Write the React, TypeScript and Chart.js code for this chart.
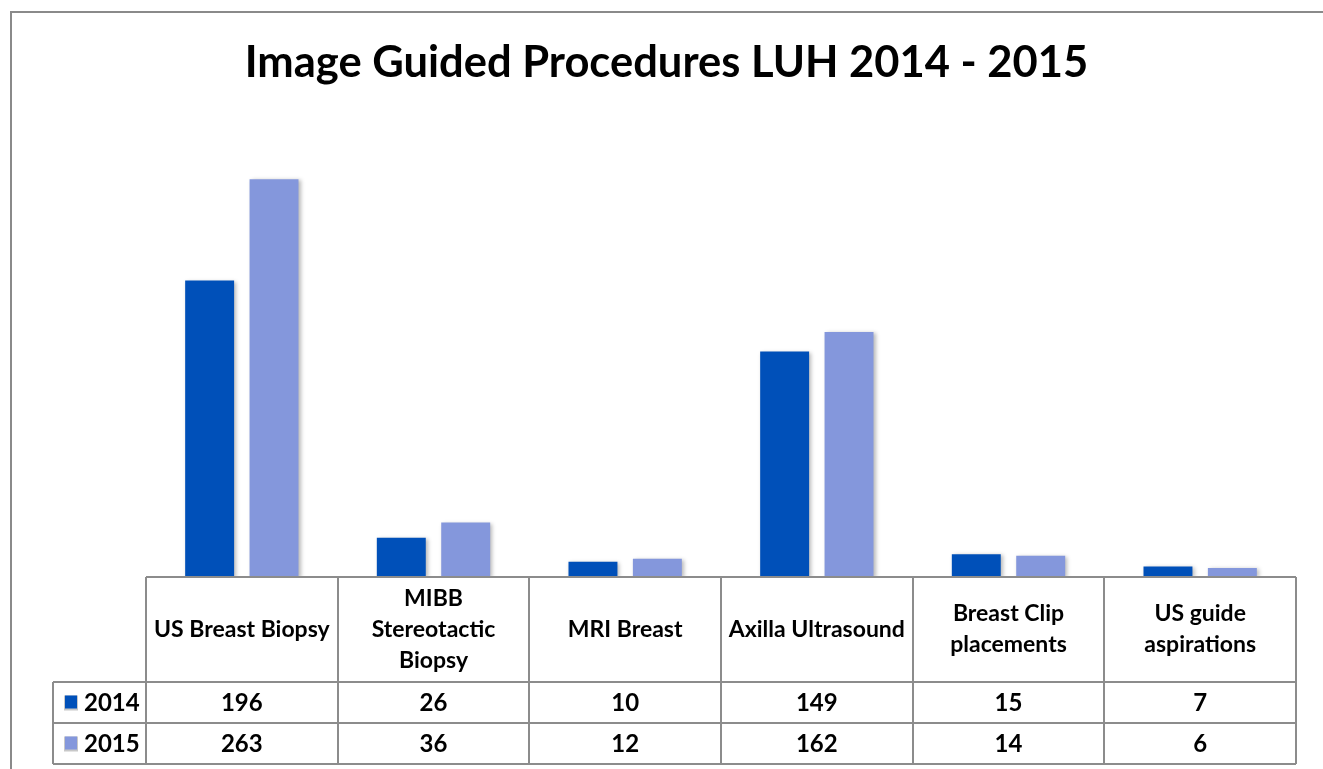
import React, { useEffect, useRef } from 'react';
import { Chart, registerables } from 'chart.js';

Chart.register(...registerables);

const TITLE = 'Image Guided Procedures LUH 2014 - 2015';
const categories: string[][] = [
  ['US Breast Biopsy'],
  ['MIBB', 'Stereotactic', 'Biopsy'],
  ['MRI Breast'],
  ['Axilla Ultrasound'],
  ['Breast Clip', 'placements'],
  ['US guide', 'aspirations'],
];
const seriesLabels = ['2014', '2015'];
const values2014 = [196, 26, 10, 149, 15, 7];
const values2015 = [263, 36, 12, 162, 14, 6];
const seriesColors = ['#0050B9', '#8497DC'];
const yMax = 300;

const FONT = 'Lato, "Open Sans", sans-serif';
const LINE = '#8c8c8c';

const framePlugin = {
  id: 'frame',
  beforeDraw(chart: any) {
    const { ctx, width, height } = chart;
    ctx.save();
    ctx.fillStyle = '#ffffff';
    ctx.fillRect(0, 0, width, height);
    ctx.strokeStyle = '#8a8a8a';
    ctx.lineWidth = 2;
    ctx.strokeRect(11, 12, width + 50, height + 50);
    ctx.restore();
  },
};

const shadowPlugin = {
  id: 'barShadow',
  beforeDatasetsDraw(chart: any) {
    const { ctx } = chart;
    ctx.save();
    ctx.shadowColor = 'rgba(0,0,0,0.28)';
    ctx.shadowBlur = 4;
    ctx.shadowOffsetX = 2;
    ctx.shadowOffsetY = 1;
  },
  afterDatasetsDraw(chart: any) {
    chart.ctx.restore();
  },
};

const tablePlugin = {
  id: 'dataTable',
  afterDraw(chart: any) {
    const { ctx, chartArea, scales } = chart;
    const { left, right, bottom } = chartArea;
    const xs = scales.x;
    const n = categories.length;
    const cw = (right - left) / n;
    const headerBottom = bottom + 105;
    const row1Bottom = headerBottom + 41;
    const row2Bottom = row1Bottom + 41;
    const legendLeft = 53;

    ctx.save();
    ctx.strokeStyle = LINE;
    ctx.lineWidth = 2;
    ctx.beginPath();
    ctx.moveTo(left, bottom);
    ctx.lineTo(right, bottom);
    ctx.moveTo(legendLeft, headerBottom);
    ctx.lineTo(right, headerBottom);
    ctx.moveTo(legendLeft, row1Bottom);
    ctx.lineTo(right, row1Bottom);
    ctx.moveTo(legendLeft, row2Bottom);
    ctx.lineTo(right, row2Bottom);
    for (let i = 0; i <= n; i++) {
      const xx = Math.round(left + i * cw);
      ctx.moveTo(xx, bottom);
      ctx.lineTo(xx, row2Bottom);
    }
    ctx.moveTo(legendLeft, headerBottom);
    ctx.lineTo(legendLeft, row2Bottom);
    ctx.stroke();

    ctx.fillStyle = '#000000';
    ctx.textAlign = 'center';
    ctx.textBaseline = 'middle';
    ctx.font = `bold 23px ${FONT}`;
    const headerMid = (bottom + headerBottom) / 2;
    const lh = 31;
    categories.forEach((lines, i) => {
      const cx = xs.getPixelForValue(i);
      const start = headerMid - ((lines.length - 1) * lh) / 2;
      lines.forEach((t, j) => ctx.fillText(t, cx, start + j * lh));
    });

    const rows = [values2014, values2015];
    const rowMids = [(headerBottom + row1Bottom) / 2, (row1Bottom + row2Bottom) / 2];
    rows.forEach((vals, r) => {
      ctx.textAlign = 'center';
      ctx.font = `bold 24px ${FONT}`;
      ctx.fillStyle = '#000000';
      vals.forEach((v, i) => {
        const cx = xs.getPixelForValue(i);
        ctx.fillText(String(v), cx, rowMids[r] + 1);
      });
      // legend key
      ctx.fillStyle = '#c8c8c8';
      ctx.fillRect(64, rowMids[r] - 7, 14, 15);
      ctx.fillStyle = seriesColors[r];
      ctx.fillRect(65, rowMids[r] - 7, 12, 13);
      ctx.fillStyle = '#000000';
      ctx.textAlign = 'left';
      ctx.font = `bold 24px ${FONT}`;
      ctx.fillText(seriesLabels[r], 84, rowMids[r] + 1);
    });
    ctx.restore();
  },
};

export default function App() {
  const ref = useRef<HTMLCanvasElement | null>(null);
  useEffect(() => {
    if (!ref.current) return;
    const chart = new Chart(ref.current, {
      type: 'bar',
      data: {
        labels: categories.map((c) => c.join(' ')),
        datasets: [
          {
            label: seriesLabels[0],
            data: values2014,
            backgroundColor: seriesColors[0],
            categoryPercentage: 0.672,
            barPercentage: 0.76,
          },
          {
            label: seriesLabels[1],
            data: values2015,
            backgroundColor: seriesColors[1],
            categoryPercentage: 0.672,
            barPercentage: 0.76,
          },
        ],
      },
      options: {
        responsive: false,
        animation: false,
        layout: { padding: { left: 10, top: 12, right: 0, bottom: 0 } },
        plugins: {
          legend: { display: false },
          tooltip: { enabled: false },
          title: {
            display: true,
            text: TITLE,
            color: '#000000',
            font: { family: FONT, size: 43.5, weight: 'bold', lineHeight: 1.2 },
            padding: { top: 25, bottom: 34 },
          },
        },
        scales: {
          x: {
            display: true,
            grid: { display: false },
            border: { display: false },
            ticks: { display: false },
            afterFit: (s: any) => {
              s.height = 192;
            },
          },
          y: {
            display: true,
            min: 0,
            max: yMax,
            grid: { display: false },
            border: { display: false },
            ticks: { display: false },
            afterFit: (s: any) => {
              s.width = 136;
            },
          },
          y2: {
            display: true,
            position: 'right',
            min: 0,
            max: yMax,
            grid: { display: false },
            border: { display: false },
            ticks: { display: false },
            afterFit: (s: any) => {
              s.width = 27;
            },
          },
        },
      },
      plugins: [framePlugin, shadowPlugin, tablePlugin],
    });
    return () => chart.destroy();
  }, []);
  return (
    <div style={{ position: 'fixed', left: 0, top: 0, width: 1323, height: 769 }}>
      <canvas ref={ref} width={1323} height={769} style={{ display: 'block' }} />
    </div>
  );
}
